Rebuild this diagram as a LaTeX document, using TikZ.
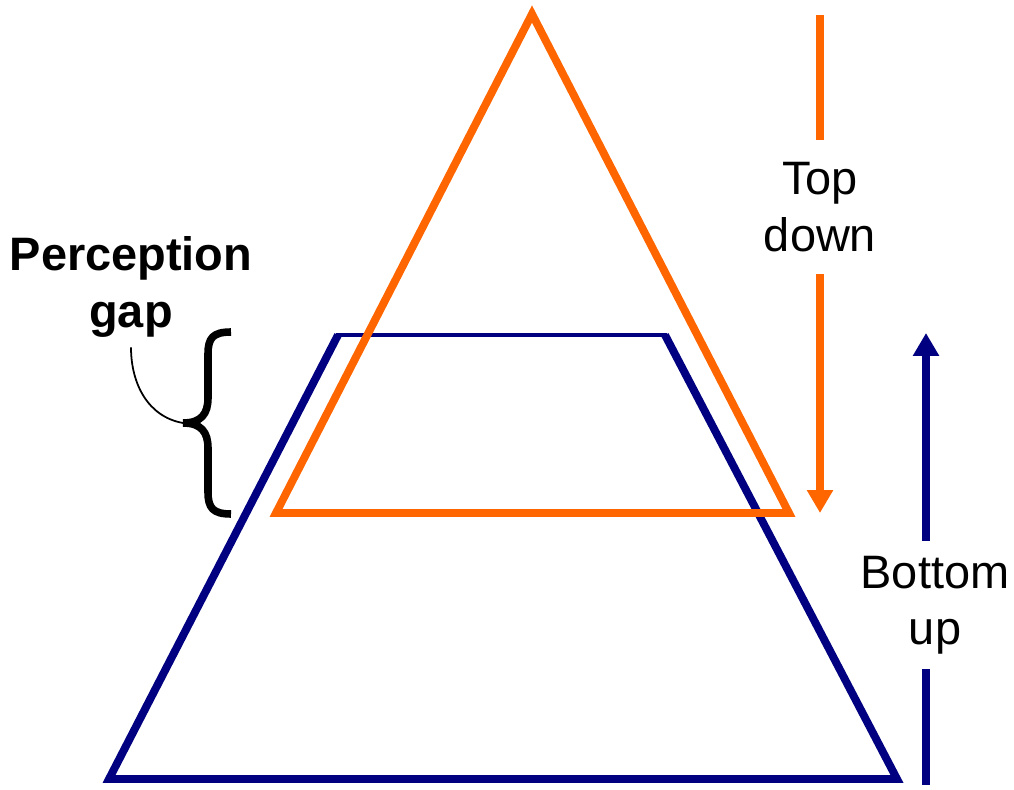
\documentclass[tikz,border=0pt]{standalone}
\usepackage{fontspec}
\setmainfont{Liberation Sans}
\usetikzlibrary{positioning,arrows.meta,calc}
\definecolor{tdorange}{RGB}{255,102,0}
\definecolor{bunavy}{RGB}{0,0,128}

\begin{document}
\begin{tikzpicture}[
    x=0.02cm, y=-0.02cm,
    shapeline/.style = {line width=4.5pt, line join=miter},
    label/.style = {align=center, inner sep=0pt, font=\fontsize{26.7}{32}\selectfont},
    tdline/.style = {draw=tdorange, line width=4.5pt},
    buline/.style = {draw=bunavy, line width=4.5pt},
    tiphead/.style = {-{Triangle[width=0.5cm,length=0.46cm]}},
    gapbrace/.style = {draw=black, line width=4.3pt, line cap=butt},
    lead/.style = {draw=black, line width=1pt}
]
\useasboundingbox (0,0) rectangle (1014,790);

% --- Two shapes ---
\draw[shapeline, draw=bunavy] (338,335) -- (109,779) -- (897,779) -- (665,335);
\draw[draw=bunavy, line width=2.2pt] (336,335) -- (667,335);
\draw[shapeline, draw=tdorange] (532,14) -- (789,513) -- (276,513) -- cycle;

% --- Labels ---
\node[label, inner ysep=0.45cm] (td) at (820,207) {Top\\down};
\node[label, inner ysep=0.3cm] (bu) at (935,605) {Bottom\\up};
\node[label, inner sep=0.2cm, font=\fontsize{26.7}{32}\selectfont\bfseries] (pg) at (131,287) {Perception\\gap};

% --- Direction arrows ---
\coordinate (tdstart) at (820,15);
\coordinate (tdtip) at (820,513);
\draw[tdline] (tdstart) -- (tdstart |- td.north);
\draw[tdline, tiphead, tdorange] (tdstart |- td.south) -- (tdtip);

\coordinate (bustart) at (926,785);
\coordinate (butip) at (926,333);
\draw[buline] (bustart) -- (bustart |- bu.south);
\draw[buline, tiphead, bunavy] (bustart |- bu.north) -- (butip);

% --- Perception gap brace ---
\coordinate (gaptip) at (183,423);
\draw[gapbrace] (231,332) .. controls (213,332) and (208,338) .. (208,354)
    -- (208,398) .. controls (208,414) and (201,423) .. (gaptip)
    .. controls (201,423) and (208,432) .. (208,448)
    -- (208,492) .. controls (208,508) and (213,514) .. (231,514);
\draw[lead] (pg) to[out=-90, in=170] (gaptip);

\end{tikzpicture}
\end{document}
